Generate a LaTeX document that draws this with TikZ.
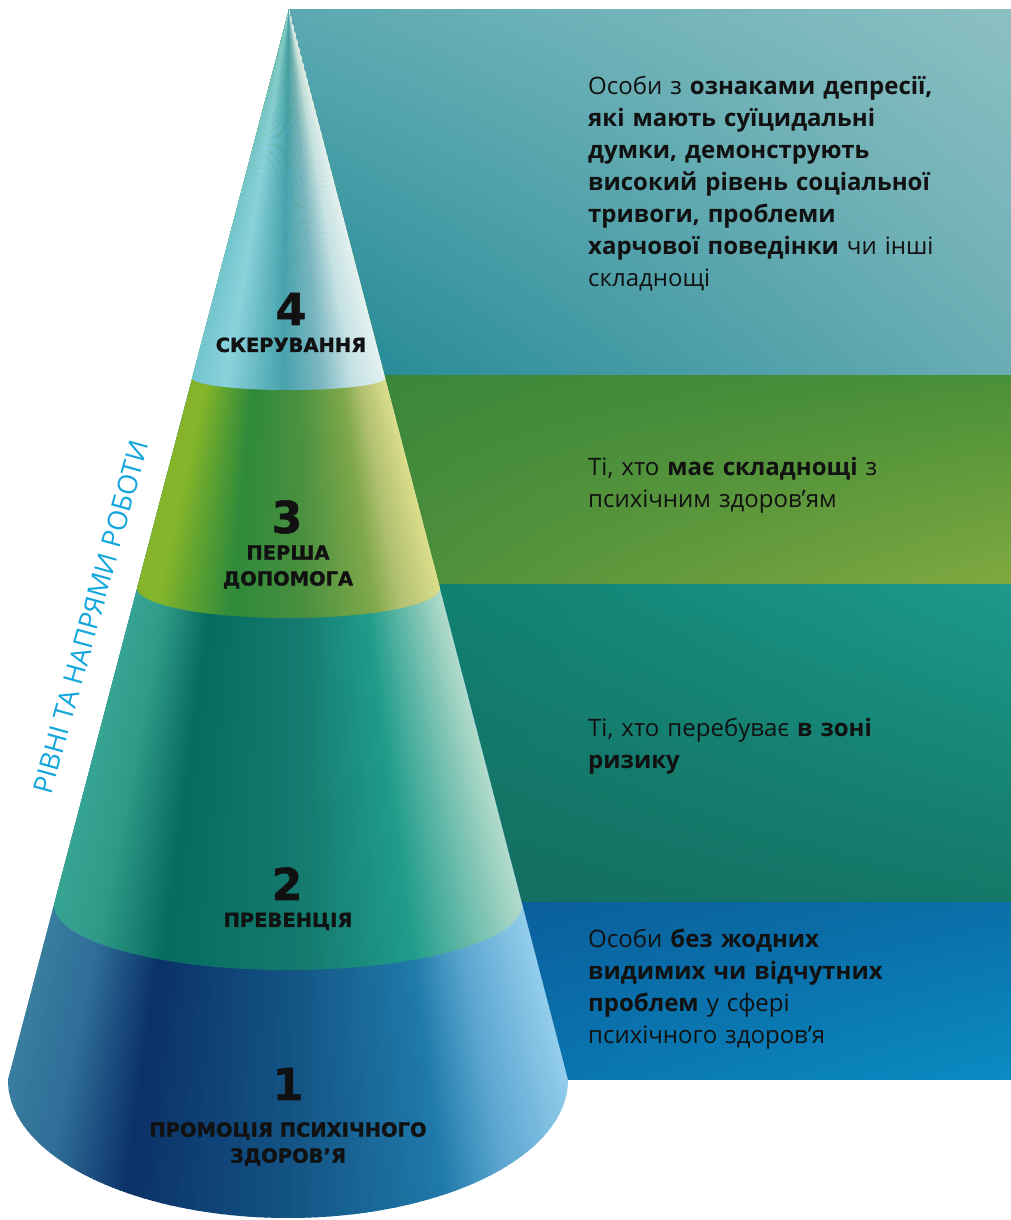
\documentclass[tikz,border=0pt]{standalone}
\usepackage{fontspec}
\usetikzlibrary{shadings}
\setmainfont{Open Sans}
\newfontfamily\labelfont{DejaVu Sans}[BoldFeatures={FakeBold=1.2}]

% cone band stop colours
\definecolor{b1c0}{HTML}{3D84A2}\definecolor{b1c1}{HTML}{2F6E98}\definecolor{b1c2}{HTML}{0B3168}
\definecolor{b1c3}{HTML}{145686}\definecolor{b1c4}{HTML}{1F7AAA}\definecolor{b1c5}{HTML}{5AA5D0}
\definecolor{b1c6}{HTML}{A8DCF5}
\definecolor{b2c0}{HTML}{3AAA98}\definecolor{b2c1}{HTML}{2F9A88}\definecolor{b2c2}{HTML}{066C5E}
\definecolor{b2c3}{HTML}{157B70}\definecolor{b2c4}{HTML}{1F9C8A}\definecolor{b2c5}{HTML}{4AAE9E}
\definecolor{b2c6}{HTML}{D2E8D8}
\definecolor{b3c0}{HTML}{86B32A}\definecolor{b3c1}{HTML}{84B52A}\definecolor{b3c2}{HTML}{2E8A3A}
\definecolor{b3c3}{HTML}{4A9040}\definecolor{b3c4}{HTML}{7FA84A}\definecolor{b3c5}{HTML}{B0C070}
\definecolor{b3c6}{HTML}{ECE894}
\definecolor{b4c0}{HTML}{6CC1CA}\definecolor{b4c1}{HTML}{8BD2DC}\definecolor{b4c2}{HTML}{47A3AE}
\definecolor{b4c3}{HTML}{7AB6C0}\definecolor{b4c4}{HTML}{C5E2E4}\definecolor{b4c5}{HTML}{EEF6F4}
% panels
\definecolor{p4ul}{HTML}{5CA9B2}\definecolor{p4ur}{HTML}{8CC0C2}\definecolor{p4ll}{HTML}{1F8794}\definecolor{p4lr}{HTML}{6AADB4}
\definecolor{p3ul}{HTML}{38853A}\definecolor{p3ur}{HTML}{4A9038}\definecolor{p3ll}{HTML}{458A3A}\definecolor{p3lr}{HTML}{80A940}
\definecolor{p2ul}{HTML}{0E7A6A}\definecolor{p2ur}{HTML}{1C9A8A}\definecolor{p2ll}{HTML}{15695D}\definecolor{p2lr}{HTML}{137868}
\definecolor{p1ul}{HTML}{0A5896}\definecolor{p1ur}{HTML}{0A6FA8}\definecolor{p1ll}{HTML}{0967A6}\definecolor{p1lr}{HTML}{0A8CC2}
\definecolor{axisblue}{HTML}{12A6DC}
\definecolor{inktext}{HTML}{111111}

\newcommand\conewedges[1]{%
  \foreach \fa/\ca/\fb/\cb in {#1}{%
    \foreach \k in {0,...,19}{%
      \pgfmathsetmacro\fl{\fa+(\fb-\fa)*\k/20}%
      \pgfmathsetmacro\fr{\fa+(\fb-\fa)*(\k+1)/20+0.003}%
      \pgfmathtruncatemacro\pc{(\k+0.5)*100/20}%
      \fill[fill=\cb!\pc!\ca] (289,1210) -- ({289+(8+560*\fl-289)*1.15},-20)
        -- ({289+(8+560*\fr-289)*1.15},-20) -- cycle;
    }}}

\tikzset{
  paneltext/.style={anchor=base west, inner sep=0pt, align=left, text width=420pt,
    text=inktext, font=\fontsize{24}{32}\selectfont},
  lvlnum/.style={anchor=base, inner sep=0pt, text=inktext,
    font=\labelfont\bfseries\fontsize{44}{44}\selectfont},
  lvlname/.style={anchor=center, inner sep=0pt, align=center, text=inktext,
    font=\labelfont\bfseries\fontsize{19.5}{26}\selectfont},
}

\begin{document}
\begin{tikzpicture}[x=1pt,y=1pt]
\useasboundingbox (0,0) rectangle (1011,1220);
% right panels
\shade[upper left=p4ul, upper right=p4ur, lower left=p4ll, lower right=p4lr] (289,844) rectangle (1011,1210);
\shade[upper left=p3ul, upper right=p3ur, lower left=p3ll, lower right=p3lr] (289,635) rectangle (1011,844);
\shade[upper left=p2ul, upper right=p2ur, lower left=p2ll, lower right=p2lr] (289,317) rectangle (1011,635);
\shade[upper left=p1ul, upper right=p1ur, lower left=p1ll, lower right=p1lr] (289,140) rectangle (1011,317);

% cone band 1 (whole cone)
\begin{scope}
  \clip (289,1210) -- (8,140) arc[start angle=180,end angle=360,x radius=280pt,y radius=138pt] -- cycle;
  \conewedges{-0.05/b1c0/0.11/b1c1, 0.11/b1c1/0.24/b1c2, 0.24/b1c2/0.52/b1c3, 0.52/b1c3/0.75/b1c4, 0.75/b1c4/0.85/b1c5, 0.85/b1c5/1.05/b1c6}
\end{scope}
% band 2
\begin{scope}
  \clip (289,1210) -- (54,315) arc[start angle=180,end angle=360,x radius=234pt,y radius=65pt] -- cycle;
  \conewedges{-0.05/b2c0/0.11/b2c1, 0.11/b2c1/0.25/b2c2, 0.25/b2c2/0.54/b2c3, 0.54/b2c3/0.75/b2c4, 0.75/b2c4/0.82/b2c5, 0.82/b2c5/1.05/b2c6}
\end{scope}
% band 3
\begin{scope}
  \clip (289,1210) -- (137,632) arc[start angle=180,end angle=360,x radius=151.5pt,y radius=30pt] -- cycle;
  \conewedges{-0.05/b3c0/0.08/b3c1, 0.08/b3c1/0.32/b3c2, 0.32/b3c2/0.55/b3c3, 0.55/b3c3/0.77/b3c4, 0.77/b3c4/0.86/b3c5, 0.86/b3c5/1.05/b3c6}
\end{scope}
% band 4
\begin{scope}
  \clip (289,1210) -- (192,842) arc[start angle=180,end angle=360,x radius=96.5pt,y radius=12pt] -- cycle;
  \conewedges{-0.05/b4c0/0.18/b4c1, 0.18/b4c1/0.47/b4c2, 0.47/b4c2/0.66/b4c3, 0.66/b4c3/0.83/b4c4, 0.83/b4c4/1.05/b4c5}
\end{scope}

% level labels
\node[lvlnum] (n4) at (291,895) {4};
\node[lvlname, anchor=base] (l4) at (291,868) {СКЕРУВАННЯ};
\node[lvlnum] (n3) at (287,687) {3};
\node[lvlname] (l3) at (288,653) {ПЕРША\\ДОПОМОГА};
\node[lvlnum] (n2) at (287,320) {2};
\node[lvlname, anchor=base] (l2) at (288,293) {ПРЕВЕНЦІЯ};
\node[lvlnum] (n1) at (288,120) {1};
\node[lvlname] (l1) at (288,76) {ПРОМОЦІЯ ПСИХІЧНОГО\\ЗДОРОВ’Я};

% panel texts
\node[paneltext] (t4) at (588,1125) {Особи з \textbf{ознаками депресії,}\\
\textbf{які мають суїцидальні}\\
\textbf{думки, демонструють}\\
\textbf{високий рівень соціальної}\\
\textbf{тривоги, проблеми}\\
\textbf{харчової поведінки} чи інші\\
складнощі};
\node[paneltext] (t3) at (588,744) {Ті, хто \textbf{має складнощі} з\\психічним здоров’ям};
\node[paneltext] (t2) at (588,483) {Ті, хто перебуває \textbf{в зоні}\\\textbf{ризику}};
\node[paneltext] (t1) at (588,272) {Особи \textbf{без жодних}\\
\textbf{видимих чи відчутних}\\
\textbf{проблем} у сфері\\
психічного здоров’я};

% axis caption
\node[rotate=74.5, inner sep=0pt, text=axisblue, font=\fontsize{27}{27}\selectfont] (axis) at (91,603) {РІВНІ ТА НАПРЯМИ РОБОТИ};
\end{tikzpicture}
\end{document}
